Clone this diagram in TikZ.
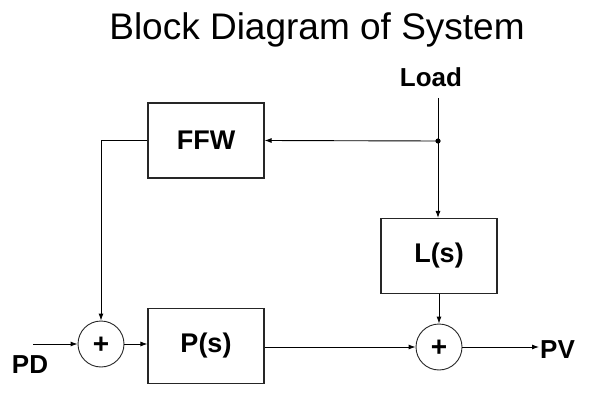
\documentclass[tikz,border=0pt]{standalone}
\usepackage{fontspec}
\setmainfont{Liberation Sans}
\usetikzlibrary{arrows.meta}
\begin{document}
\begin{tikzpicture}[x=1pt,y=-1pt]
    \tikzset{
      blk/.style={draw=black!85, line width=1.1pt, minimum width=116pt, minimum height=75pt,
                  font=\fontsize{27}{30}\selectfont\bfseries},
      sum/.style={draw=black!85, circle, line width=0.9pt, minimum size=46pt, inner sep=0pt,
                  text height=19.8pt, text depth=0pt,
                  font=\fontsize{28}{30}\selectfont\bfseries},
      lbl/.style={font=\fontsize{26}{30}\selectfont\bfseries, inner sep=1pt},
      sig/.style={line width=0.9pt, -{Latex[length=7pt,width=5pt]}}
    }
    \useasboundingbox (0,0) rectangle (600,404);

    \node[font=\fontsize{37}{42}\selectfont] (title) at (317,30) {Block Diagram of System};%

    % blocks and summing points
    \node[blk] (ffw) at (206,140.5) {FFW};%
    \node[blk] (ps) at (206,346) {P(s)};%
    \node[blk] (ls) at (439,256) {L(s)};%
    \node[sum] (s1) at (101,344) {+};%
    \node[sum] (s2) at (439,347) {+};%

    % signals
    \node[lbl] (load) at (431,77) {Load};%
    \node[lbl] (pd) at (30,365) {PD};%
    \node[lbl, anchor=west] (pv) at (539,350) {PV};%
    \coordinate (pdin) at (33,344);
    \coordinate (ldin) at (438,98);
    \coordinate (tap) at (438,141);

    \draw[line width=0.9pt] (ldin) -- (tap);
    \fill (tap) circle (2.6);
    \draw[sig] (tap) -- (ffw.east);
    \draw[sig] (tap) -- (tap |- ls.north);
    \draw[sig] (ffw.west) -| (s1.north);
    \draw[sig] (pdin) -- (s1.west);
    \draw[sig] (s1.east) -- (s1.east -| ps.west);
    \draw[sig] (ps.east |- s2.west) -- (s2.west);
    \draw[sig] (ls.south) -- (s2.north);
    \draw[sig] (s2.east) -- (s2.east -| pv.west);
\end{tikzpicture}
\end{document}
